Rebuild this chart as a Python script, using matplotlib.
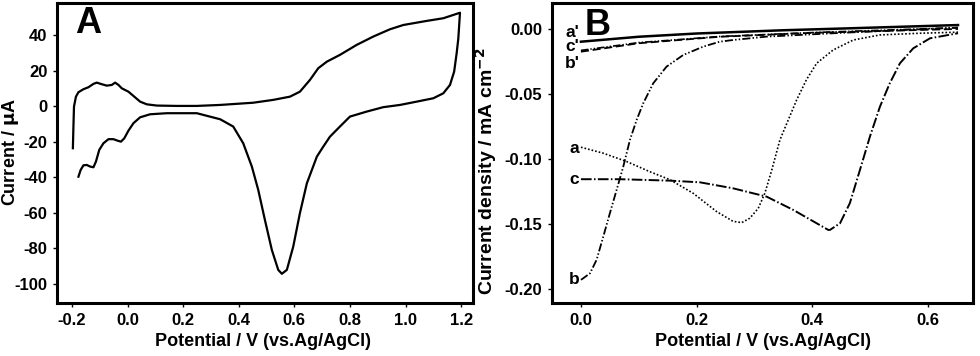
import numpy as np
import matplotlib
matplotlib.use('Agg')
import matplotlib.pyplot as plt
from matplotlib.ticker import FormatStrFormatter

matplotlib.rcParams['font.family'] = 'Liberation Sans'
matplotlib.rcParams['font.weight'] = 'bold'
matplotlib.rcParams['axes.labelweight'] = 'bold'
matplotlib.rcParams['axes.unicode_minus'] = False
matplotlib.rcParams['xtick.labelsize'] = 12
matplotlib.rcParams['ytick.labelsize'] = 12
matplotlib.rcParams['axes.labelsize'] = 13
matplotlib.rcParams['mathtext.default'] = 'bf'

# --- Panel A: cyclic voltammogram, forward scan then reverse scan
cv_E = [-0.197, -0.195, -0.193, -0.186, -0.177, -0.159, -0.141, -0.123, -0.111, -0.093,
        -0.075, -0.057, -0.045, -0.033, -0.021, 0.003, 0.021, 0.045, 0.069, 0.105,
        0.177, 0.249, 0.333, 0.452, 0.524, 0.584, 0.62, 0.656, 0.686, 0.717, 0.764,
        0.824, 0.884, 0.944, 0.992, 1.076, 1.136, 1.196,
        1.19, 1.184, 1.175, 1.16, 1.136, 1.10, 1.04, 0.98, 0.92, 0.86, 0.80, 0.764,
        0.728, 0.704, 0.681, 0.645, 0.62, 0.596, 0.573, 0.555, 0.542, 0.519, 0.494,
        0.470, 0.447, 0.416, 0.38, 0.333, 0.249, 0.141, 0.081, 0.045, 0.021, 0.003,
        -0.012, -0.024, -0.037, -0.051, -0.069, -0.087, -0.102, -0.114, -0.123,
        -0.135, -0.147, -0.159, -0.169, -0.177]
cv_I = [-23.7, -11.5, -0.3, 5.3, 7.8, 9.5, 10.6, 12.5, 13.2, 12.3,
        11.5, 11.9, 13.2, 11.9, 10.0, 8.1, 5.7, 2.5, 1.0, 0.3,
        0.1, 0.1, 0.65, 1.9, 3.5, 5.3, 8.1, 14.7, 21.3, 25.0, 28.8,
        34.4, 39.1, 43.2, 45.6, 47.9, 49.4, 52.5,
        38.0, 29.7, 19.4, 11.9, 7.2, 4.4, 2.5, 0.65, -0.6, -3.1, -5.9, -11.5,
        -17.2, -22.8, -28.4, -43.4, -60.2, -79.0, -92.1, -94.3, -92.1, -80.9, -64.0,
        -47.1, -34.0, -20.9, -11.5, -7.4, -4.0, -4.0, -4.6, -6.3, -9.6, -13.8,
        -18.1, -20.0, -19.4, -18.6, -18.6, -20.9, -24.6, -31.2, -34.4,
        -34.0, -33.1, -33.3, -35.9, -39.7]

# --- Panel B: linear sweep curves
a_E = [0.0, 0.0386, 0.079, 0.119, 0.154, 0.194, 0.2346, 0.263, 0.278, 0.292, 0.3066,
       0.318, 0.33, 0.344, 0.3585, 0.373, 0.39, 0.4076, 0.436, 0.471, 0.517, 0.586, 0.652]
a_j = [-0.091, -0.0956, -0.102, -0.1098, -0.116, -0.1264, -0.1405, -0.148, -0.149,
       -0.1456, -0.138, -0.1264, -0.1085, -0.0854, -0.070, -0.0546, -0.039, -0.0264,
       -0.0162, -0.0085, -0.0046, -0.0033, -0.0025]

b_E = [0.0, 0.004, 0.0156, 0.027, 0.0386, 0.050, 0.0617, 0.0732, 0.0847, 0.0963,
       0.1077, 0.125, 0.148, 0.177, 0.2115, 0.240, 0.263, 0.321, 0.45, 0.652]
b_j = [-0.193, -0.1918, -0.188, -0.1777, -0.1598, -0.1418, -0.1238, -0.1059, -0.0854,
       -0.070, -0.0572, -0.0418, -0.029, -0.020, -0.0136, -0.0098, -0.0085, -0.0059,
       -0.003, 0.001]

c_E = [0.0, 0.0674, 0.154, 0.206, 0.263, 0.321, 0.367, 0.4017, 0.4276, 0.4306, 0.448,
       0.465, 0.4824, 0.4997, 0.517, 0.534, 0.5516, 0.5746, 0.6035, 0.652]
c_j = [-0.1156, -0.1156, -0.1167, -0.118, -0.1226, -0.129, -0.1392, -0.148, -0.1546,
       -0.1546, -0.1495, -0.134, -0.1085, -0.0828, -0.0598, -0.0418, -0.0264, -0.0149,
       -0.0072, -0.0033]

ap_E = [0.0, 0.1, 0.2, 0.35, 0.465, 0.652]
ap_j = [-0.0098, -0.006, -0.0035, -0.001, 0.0005, 0.003]
cp_E = [0.0, 0.1, 0.24, 0.4, 0.652]
cp_j = [-0.0175, -0.011, -0.006, -0.003, 0.0]
bp_E = [0.0, 0.1, 0.24, 0.4, 0.652]
bp_j = [-0.0165, -0.0105, -0.0058, -0.0028, 0.001]

labels_B = ["a'", "c'", "b'", "a", "c", "b"]
labels_B_y = [-0.0025, -0.0138, -0.0265, -0.0917, -0.116, -0.193]

fig = plt.figure(figsize=(9.8, 3.56), dpi=100)
axA = fig.add_axes([0.0582, 0.149, 0.4245, 0.8427])
axB = fig.add_axes([0.5633, 0.149, 0.4296, 0.8427])

for ax in (axA, axB):
    for s in ax.spines.values():
        s.set_linewidth(2.2)
    ax.tick_params(direction='out', length=3, width=1, pad=4)

axA.plot(cv_E, cv_I, color='black', lw=1.6)
axA.set_xlim(-0.254, 1.243)
axA.set_ylim(-110.7, 58)
axA.set_xticks(np.arange(-0.2, 1.21, 0.2))
axA.set_yticks(np.arange(-100, 41, 20))
axA.xaxis.set_major_formatter(FormatStrFormatter('%.1f'))
axA.set_xlabel('Potential / V (vs.Ag/AgCl)', va='center')
axA.xaxis.set_label_coords(0.494, -0.13)
axA.set_ylabel(r'Current / $\mathbf{\mu}$A', va='center')
axA.yaxis.set_label_coords(-0.113, 0.503)
axA.text(-0.142, 46.7, 'A', fontsize=26, fontweight='bold', ha='center', va='center')

axB.plot(ap_E, ap_j, color='black', lw=1.8, ls='-')
axB.plot(cp_E, cp_j, color='black', lw=1.3, ls=(0, (4.5, 2)))
axB.plot(bp_E, bp_j, color='black', lw=1.2, ls=(0, (4.5, 1.2, 0.8, 1.2, 0.8, 1.2)))
axB.plot(a_E, a_j, color='black', lw=1.2, ls=(0, (1, 1.2)))
axB.plot(b_E, b_j, color='black', lw=1.3, ls=(0, (4.5, 1.2, 0.8, 1.2, 0.8, 1.2)))
axB.plot(c_E, c_j, color='black', lw=1.4, ls=(0, (5.5, 1.2, 0.8, 1.2)))
for lab, yy in zip(labels_B, labels_B_y):
    axB.text(-0.003, yy, lab, fontsize=12.5, fontweight='bold', ha='right', va='center')
axB.set_xlim(-0.05, 0.678)
axB.set_ylim(-0.2108, 0.02)
axB.set_xticks([0.0, 0.2, 0.4, 0.6])
axB.set_yticks([0.0, -0.05, -0.10, -0.15, -0.20])
axB.xaxis.set_major_formatter(FormatStrFormatter('%.1f'))
axB.yaxis.set_major_formatter(FormatStrFormatter('%.2f'))
axB.set_xlabel('Potential / V (vs.Ag/AgCl)', va='center')
axB.xaxis.set_label_coords(0.502, -0.13)
axB.set_ylabel(r'Current density / mA cm$^{\mathbf{-2}}$', fontsize=14, va='center')
axB.yaxis.set_label_coords(-0.157, 0.44)
axB.text(0.028, 0.003, 'B', fontsize=26, fontweight='bold', ha='center', va='center')

fig.savefig('out.png', dpi=100)
